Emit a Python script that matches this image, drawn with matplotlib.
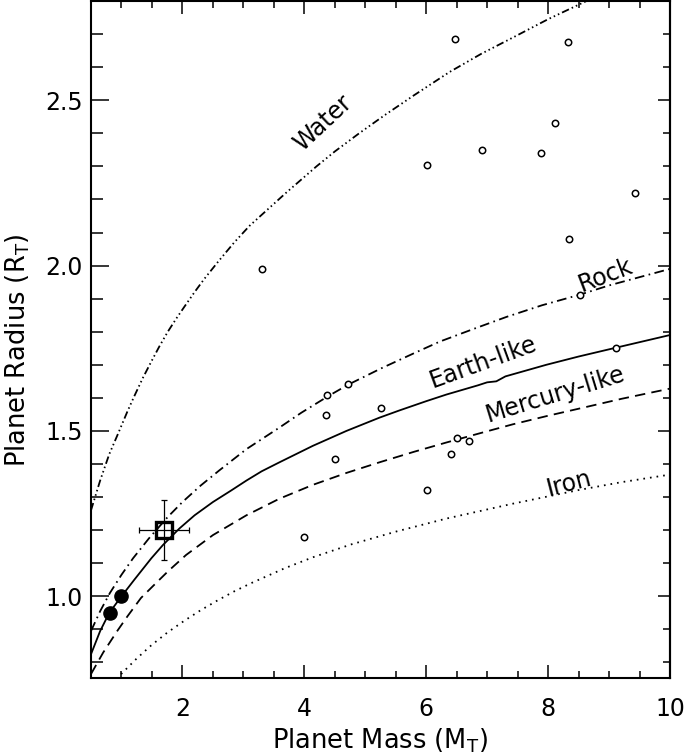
import numpy as np
import matplotlib.pyplot as plt
from matplotlib.ticker import MultipleLocator

plt.rcParams['lines.scale_dashes'] = False
plt.rcParams['mathtext.default'] = 'regular'
plt.rcParams['font.family'] = ['DejaVu Sans']

# model curves (mass in M_T, radius in R_T)
water_m = [0.5, 0.65, 0.8, 0.94, 1.1, 1.21, 1.35, 1.49, 1.62, 1.76, 1.9, 2.03, 2.2, 2.36, 2.6, 2.85,
           3.1, 3.4, 3.7, 3.95, 4.2, 4.5, 4.9, 5.32, 5.8, 6.38, 6.9, 7.48, 8.0, 8.63, 8.8]
water_r = [1.26, 1.35, 1.43, 1.49, 1.56, 1.605, 1.66, 1.71, 1.755, 1.80, 1.84, 1.875, 1.92, 1.96, 2.015, 2.07,
           2.12, 2.17, 2.22, 2.26, 2.30, 2.345, 2.40, 2.455, 2.515, 2.585, 2.64, 2.695, 2.745, 2.80, 2.815]

rock_m = [0.5, 0.65, 0.81, 1.0, 1.19, 1.45, 1.76, 2.0, 2.3, 2.6, 3.05, 3.59, 3.95, 4.39, 4.72,
          5.27, 5.8, 6.22, 6.8, 7.32, 7.9, 8.52, 9.0, 9.5, 10.0]
rock_r = [0.895, 0.955, 1.01, 1.065, 1.115, 1.175, 1.24, 1.285, 1.335, 1.38, 1.445, 1.51, 1.555, 1.605, 1.64,
          1.69, 1.735, 1.77, 1.81, 1.845, 1.88, 1.912, 1.94, 1.965, 1.99]

earth_m = [0.5, 0.65, 0.80, 1.0, 1.21, 1.49, 1.68, 1.95, 2.2, 2.5, 2.8, 3.05, 3.3, 3.59, 4.14, 4.69,
           5.23, 5.56, 6.0, 6.33, 6.85, 7.0, 7.15, 7.3, 7.97, 8.5, 9.12, 10.0]
earth_r = [0.825, 0.895, 0.95, 1.0, 1.05, 1.115, 1.155, 1.205, 1.245, 1.285, 1.32, 1.35, 1.378, 1.405, 1.455, 1.50,
           1.54, 1.562, 1.59, 1.61, 1.638, 1.647, 1.65, 1.665, 1.70, 1.725, 1.752, 1.79]

merc_m = [0.5, 0.7, 0.93, 1.1, 1.32, 1.55, 1.76, 2.06, 2.5, 3.05, 3.59, 4.14, 4.69, 5.23, 5.8,
          6.33, 6.9, 7.42, 8.0, 8.52, 9.2, 10.0]
merc_r = [0.765, 0.83, 0.895, 0.94, 0.995, 1.037, 1.075, 1.125, 1.185, 1.245, 1.295, 1.337, 1.373, 1.405, 1.437,
          1.465, 1.494, 1.52, 1.546, 1.568, 1.597, 1.628]

iron_m = [0.92, 1.0, 1.25, 1.49, 1.75, 2.03, 2.3, 2.58, 2.85, 3.13, 3.68, 4.14, 4.77, 5.51, 6.33,
          7.42, 8.52, 9.2, 10.0]
iron_r = [0.75, 0.766, 0.812, 0.852, 0.89, 0.926, 0.958, 0.988, 1.015, 1.04, 1.085, 1.118, 1.157, 1.196, 1.235,
          1.28, 1.322, 1.345, 1.368]

# known planets (open circles)
pl_m = [4.0, 4.38, 4.72, 4.35, 5.25, 4.51, 6.51, 6.70, 6.41, 6.01, 9.12,
        6.48, 8.32, 8.11, 6.91, 7.89, 6.01, 9.42, 8.34, 3.30, 8.52]
pl_r = [1.18, 1.608, 1.641, 1.547, 1.569, 1.416, 1.48, 1.47, 1.429, 1.32, 1.75,
        2.685, 2.675, 2.43, 2.35, 2.34, 2.305, 2.22, 2.08, 1.99, 1.91]

# Venus and Earth
solar_m = [0.815, 1.0]
solar_r = [0.95, 1.0]

# the new planet with errors
new_m, new_r = 1.69, 1.20
new_merr, new_rerr = 0.41, 0.09

labels = ['Water', 'Rock', 'Earth-like', 'Mercury-like', 'Iron']
lab_x = [4.30, 8.94, 6.94, 8.11, 8.35]
lab_y = [2.43, 1.972, 1.708, 1.612, 1.342]
lab_rot = [43, 21, 20, 17, 14.5]

fig = plt.figure(figsize=(6.85, 7.54), dpi=100)
ax = fig.add_axes([91 / 685, 1 - 678 / 754, 579 / 685, 677 / 754])

lw = 1.3
ax.plot(water_m, water_r, color='k', lw=lw, dashes=(5.5, 2.2, 1.1, 2.2, 1.1, 2.2, 1.1, 2.2))
ax.plot(rock_m, rock_r, color='k', lw=lw, dashes=(7, 3.2, 1.2, 3.2))
ax.plot(earth_m, earth_r, color='k', lw=lw)
ax.plot(merc_m, merc_r, color='k', lw=lw, dashes=(7.5, 4.5))
ax.plot(iron_m, iron_r, color='k', lw=lw, dashes=(1.2, 3.6))

ax.plot(pl_m, pl_r, 'o', ms=4.6, mfc='white', mec='k', mew=1.1, zorder=4)
ax.plot(solar_m, solar_r, 'o', ms=9.5, mfc='k', mec='k', zorder=4)

ax.errorbar(new_m, new_r, xerr=new_merr, yerr=new_rerr, fmt='none',
            ecolor='k', elinewidth=0.9, capsize=2.5, capthick=0.9, zorder=5)
ax.plot(new_m, new_r, 's', ms=11.5, mfc='none', mec='k', mew=2.4, zorder=6)

for t, x, y, r in zip(labels, lab_x, lab_y, lab_rot):
    ax.text(x, y, t, rotation=r, ha='center', va='center',
            rotation_mode='anchor', fontsize=17)

ax.set_xlim(0.5, 10)
ax.set_ylim(0.753, 2.80)
ax.xaxis.set_major_locator(MultipleLocator(2))
ax.xaxis.set_minor_locator(MultipleLocator(0.5))
ax.yaxis.set_major_locator(MultipleLocator(0.5))
ax.yaxis.set_minor_locator(MultipleLocator(0.1))
ax.yaxis.set_major_formatter(plt.FormatStrFormatter('%.1f'))

ax.tick_params(axis='x', which='both', direction='in', top=True, width=1.1, labelsize=17, pad=14)
ax.tick_params(axis='x', which='major', length=9.5)
ax.tick_params(axis='x', which='minor', length=5)
ax.tick_params(axis='y', which='both', direction='in', right=False, width=1.1, labelsize=17, pad=6)
ax.tick_params(axis='y', which='major', length=13)
ax.tick_params(axis='y', which='minor', length=8.5)

# right side ticks are shorter than the left ones
sec = ax.secondary_yaxis('right')
sec.yaxis.set_major_locator(MultipleLocator(0.5))
sec.yaxis.set_minor_locator(MultipleLocator(0.1))
sec.tick_params(which='both', direction='in', labelright=False, width=1.1)
sec.tick_params(which='major', length=9)
sec.tick_params(which='minor', length=5)
sec.spines['right'].set_linewidth(1.5)

for s in ax.spines.values():
    s.set_linewidth(1.5)

ax.set_xlabel('Planet Mass (M$_T$)', fontsize=18.5)
ax.set_ylabel('Planet Radius (R$_T$)', fontsize=18.5)
ax.xaxis.label.set_va('center')
ax.yaxis.label.set_va('center')
ax.xaxis.set_label_coords(0.5, -0.092)
ax.yaxis.set_label_coords(-0.126, 0.485)

fig.savefig('out.png', dpi=100)
